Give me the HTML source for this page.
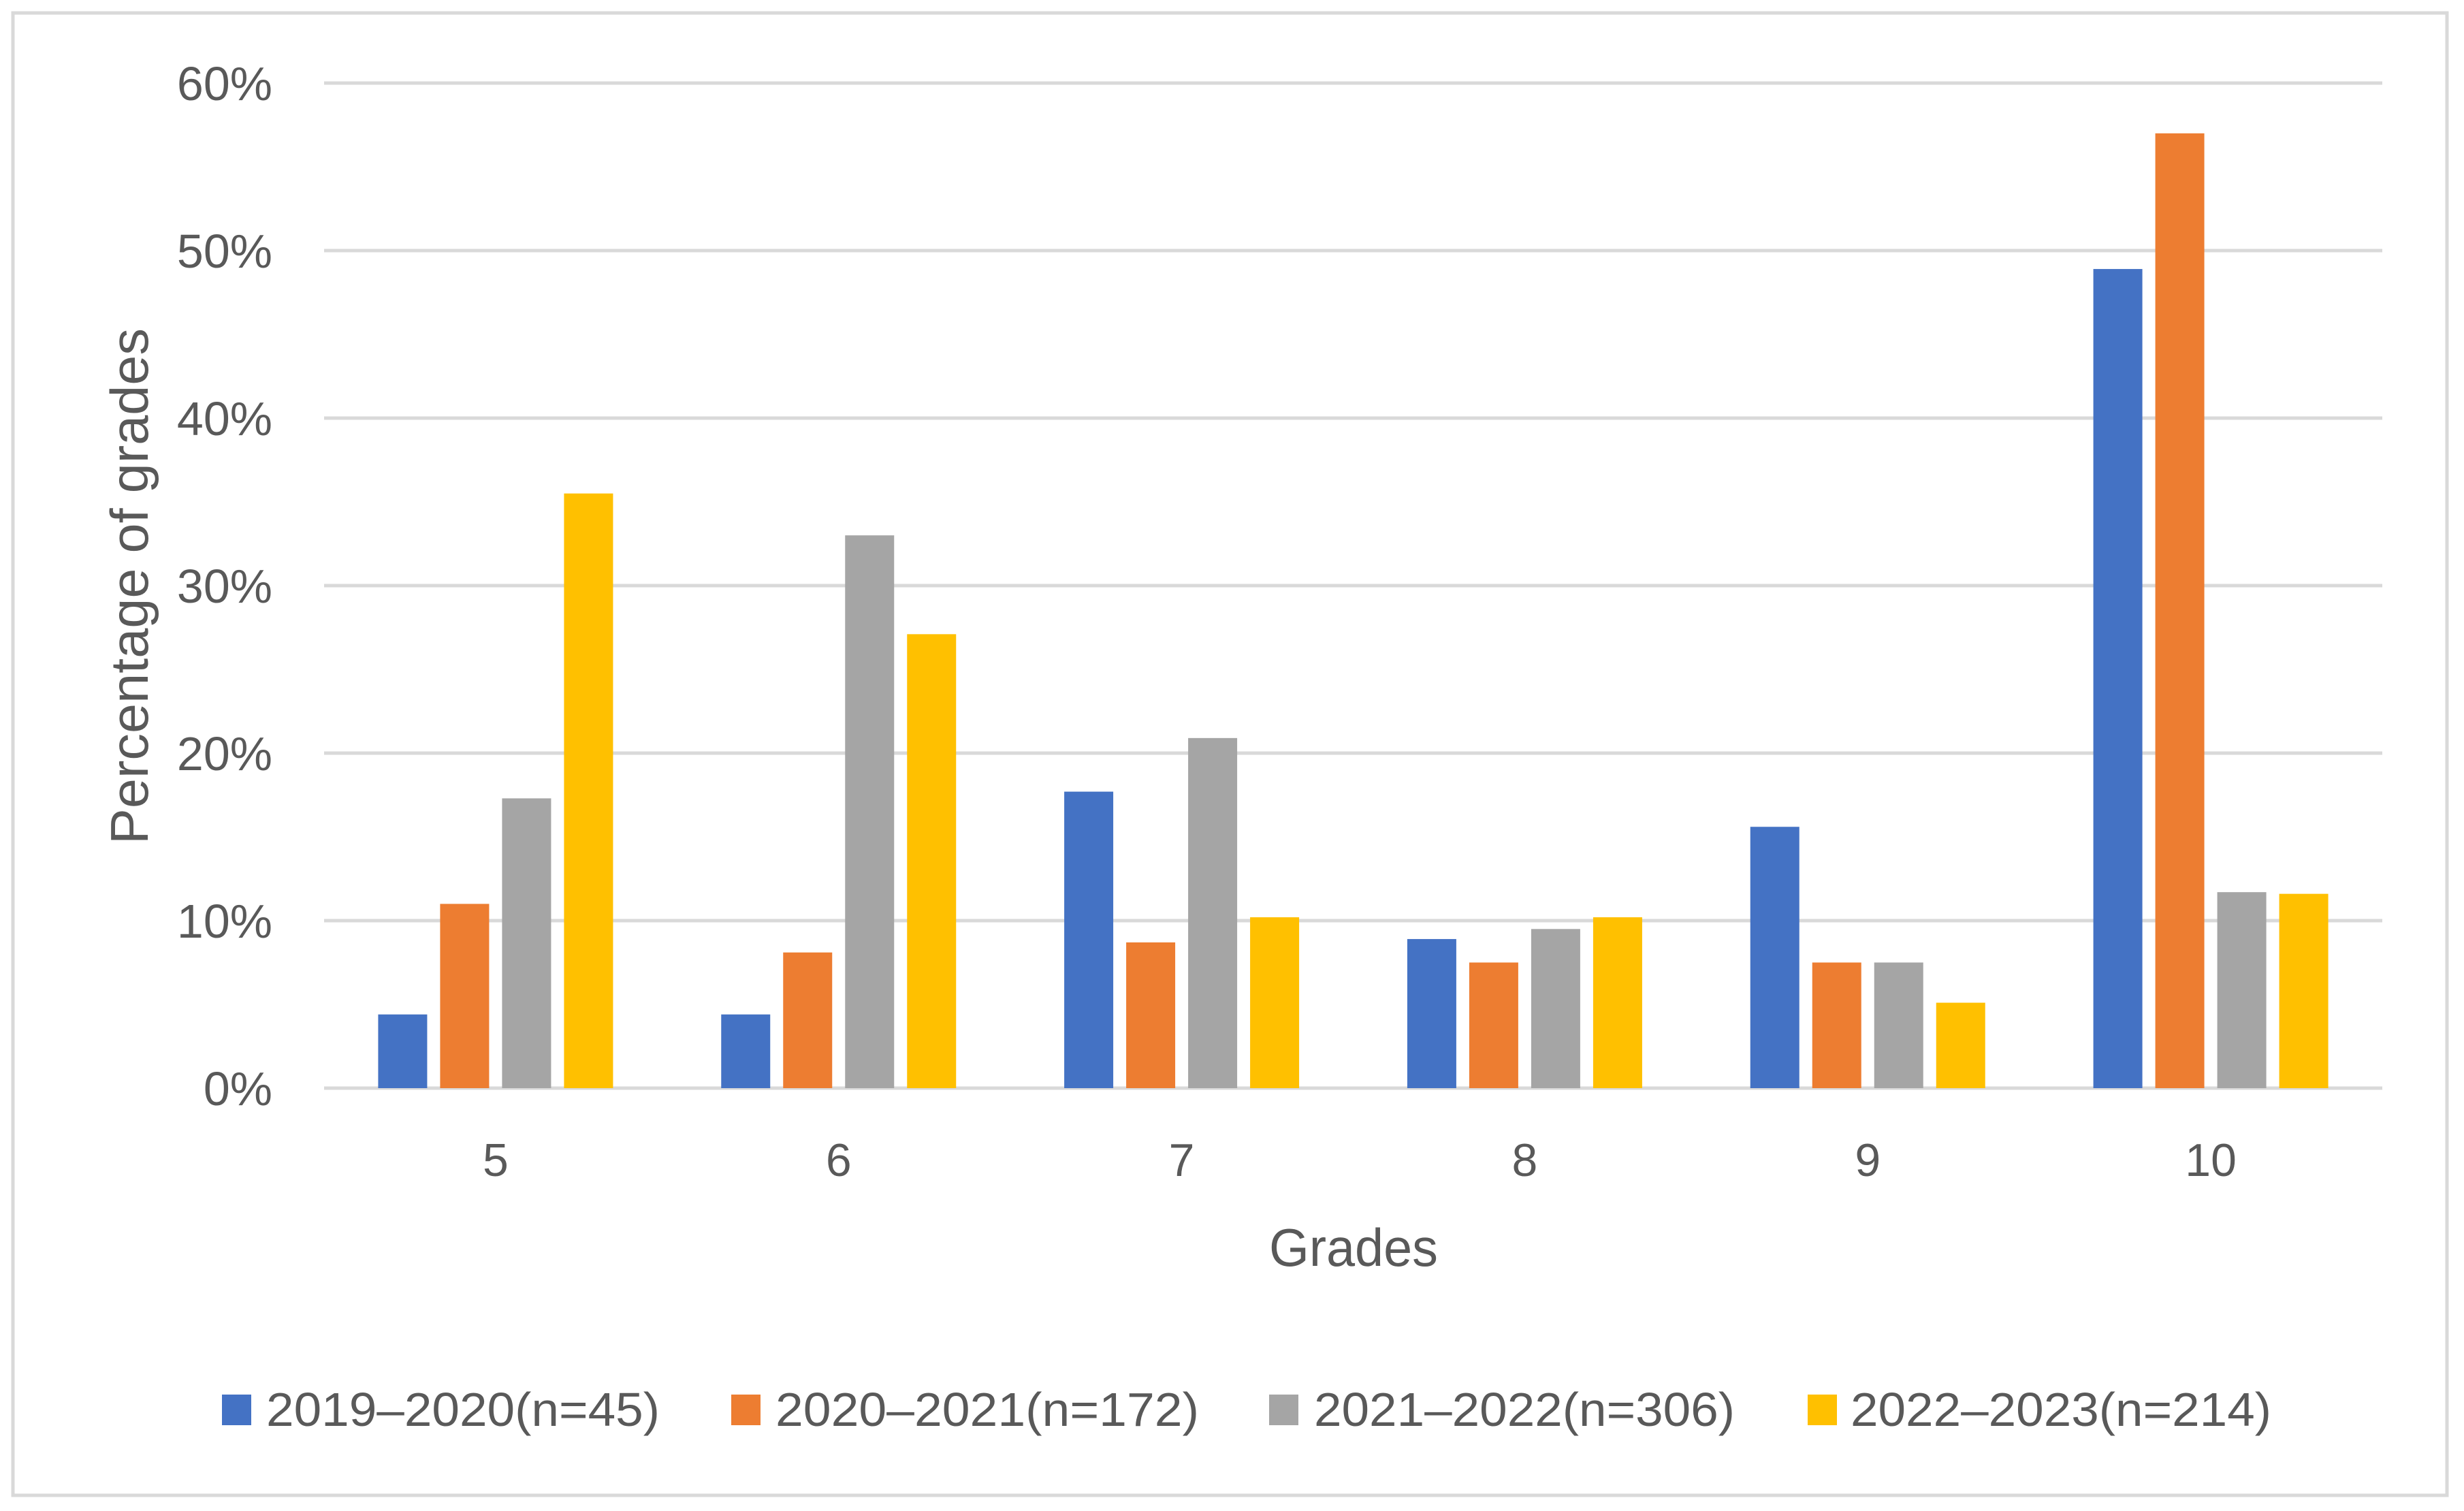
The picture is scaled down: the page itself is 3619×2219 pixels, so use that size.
<!DOCTYPE html>
<html><head><meta charset="utf-8"><style>
html,body{margin:0;padding:0;background:#fff;}
svg{display:block;}
text{font-family:"Liberation Sans",sans-serif;fill:#595959;}
</style></head><body>
<svg id="chart" width="3619" height="2219" viewBox="0 0 3619 2219" xmlns="http://www.w3.org/2000/svg">
<rect x="19" y="19" width="3575" height="2177" fill="#fff" stroke="#d9d9d9" stroke-width="5"/>
<g id="grid"></g>
<g id="bars"></g>
<g id="labels"></g>
<text transform="translate(217,861) rotate(-90)" text-anchor="middle" font-size="78" textLength="758" lengthAdjust="spacingAndGlyphs">Percentage of grades</text>
<text x="1988" y="1859" text-anchor="middle" font-size="78" textLength="248" lengthAdjust="spacingAndGlyphs">Grades</text>
<g id="legend"></g>
</svg>
<script>
const categories = ["5","6","7","8","9","10"];
const seriesNames = ["2019\u20132020(n=45)","2020\u20132021(n=172)","2021\u20132022(n=306)","2022\u20132023(n=214)"];
const s2019 = [4.4, 4.4, 17.7, 8.9, 15.6, 48.9];
const s2020 = [11.0, 8.1, 8.7, 7.5, 7.5, 57.0];
const s2021 = [17.3, 33.0, 20.9, 9.5, 7.5, 11.7];
const s2022 = [35.5, 27.1, 10.2, 10.2, 5.1, 11.6];
const yTicks = [0,10,20,30,40,50,60];
const yTickLabels = ["0%","10%","20%","30%","40%","50%","60%"];

const series = [s2019, s2020, s2021, s2022];
const colors = ["#4472c4","#ed7d31","#a5a5a5","#ffc000"];
const NS = "http://www.w3.org/2000/svg";
const X0 = 476, X1 = 3499, Y0 = 1598, Y60 = 122;
function yScale(v){ return Y0 - (v/60)*(Y0-Y60); }
const groupW = (X1-X0)/categories.length;
function xCenter(i){ return X0 + groupW*(i+0.5); }
const step = 91, barW = 72;

function mk(tag, attrs, parent){
  const el = document.createElementNS(NS, tag);
  for (const k in attrs) el.setAttribute(k, attrs[k]);
  parent.appendChild(el);
  return el;
}
const grid = document.getElementById('grid');
const labels = document.getElementById('labels');
yTicks.forEach((t,i)=>{
  const y = yScale(t);
  const ln = mk('line',{x1:X0,x2:X1,y1:y,y2:y,stroke:'#d9d9d9','stroke-width':5},grid);
  
  
  const tx = mk('text',{x:400,y:y+25,'text-anchor':'end','font-size':70},labels);
  
  
  tx.textContent = yTickLabels[i];
});
const bars = document.getElementById('bars');
categories.forEach((c,i)=>{
  series.forEach((s,j)=>{
    const cx = xCenter(i) + (j-1.5)*step;
    const y = yScale(s[i]);
    const r = mk('rect',{x:cx-barW/2,y:y,width:barW,height:Y0-y,fill:colors[j]},bars);
    
    
  });
  const tx = mk('text',{x:xCenter(i),y:1727,'text-anchor':'middle','font-size':68},labels);
  
  
  tx.textContent = c;
});
const legend = document.getElementById('legend');
const legSq = [326, 1074, 1864, 2655];
const legTx = [391, 1139, 1930, 2718];
const legW = [578, 622, 618, 618];
seriesNames.forEach((n,j)=>{
  const g = mk('g',{},legend);
  
  
  mk('rect',{x:legSq[j],y:2048,width:43,height:45,fill:colors[j]},g);
  const t = mk('text',{x:legTx[j],y:2094,'font-size':70,textLength:legW[j],lengthAdjust:'spacingAndGlyphs'},g);
  t.textContent = n;
});
</script>
</body></html>
